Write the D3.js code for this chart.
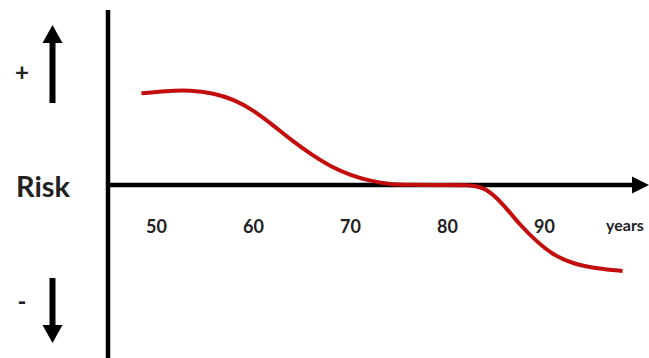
<!DOCTYPE html>
<html>
<head>
<meta charset="utf-8">
<script src="https://cdn.jsdelivr.net/npm/d3@7"></script>
<style>
  html, body { margin: 0; padding: 0; background: #fff; }
  svg { display: block; }
</style>
</head>
<body>
<svg id="chart" width="649" height="358"></svg>
<script>
// ---- data ----
const tickYears = [50, 60, 70, 80, 90];
const tickLabels = ["50", "60", "70", "80", "90"];
const ages = [48.5, 51, 53.5, 56, 58, 60, 62, 64, 66, 68, 70, 72, 74, 76, 80, 82.5, 84, 85.8, 87.5, 89.3, 91, 93, 95.5, 98.1];
const risk = [0.965, 0.99, 1.0, 0.965, 0.9, 0.79, 0.635, 0.47, 0.32, 0.195, 0.105, 0.045, 0.01, 0.0, 0.0, 0.0, -0.03, -0.2, -0.42, -0.6, -0.74, -0.83, -0.88, -0.905];
const axisTitle = "Risk";
const unitLabel = "years";

// ---- layout ----
const svg = d3.select("#chart");
const x = d3.scaleLinear().domain([50, 90]).range([156, 544]);
const y = d3.scaleLinear().domain([-1, 1]).range([280, 90]);
const y0 = y(0);
const axisX = 108;
const textColor = "#222";
const font = "Lato, 'Open Sans', sans-serif";

// vertical axis
svg.append("line")
  .attr("x1", axisX).attr("x2", axisX)
  .attr("y1", 10).attr("y2", 358)
  .attr("stroke", "#000").attr("stroke-width", 4.5);

// horizontal axis line + arrow
svg.append("line")
  .attr("x1", axisX).attr("x2", 634)
  .attr("y1", y0).attr("y2", y0)
  .attr("stroke", "#000").attr("stroke-width", 4.5);
svg.append("path")
  .attr("d", `M632,${y0 - 8.5} L649,${y0} L632,${y0 + 8.5} Z`)
  .attr("fill", "#000");

// tick labels via d3 axis
const ax = d3.axisBottom(x).tickValues(tickYears).tickFormat((d, i) => tickLabels[i]).tickSize(0).tickPadding(0);
const g = svg.append("g").attr("transform", `translate(0,${y0 + 48})`).call(ax);
g.select(".domain").remove();
g.selectAll("text")
  .attr("dy", "0")
  .attr("font-family", font)
  .attr("font-weight", "bold")
  .attr("font-size", 18)
  .attr("fill", textColor);

svg.append("text")
  .attr("x", 625).attr("y", y0 + 46)
  .attr("text-anchor", "middle")
  .attr("font-family", font).attr("font-weight", "bold").attr("font-size", 16)
  .attr("fill", textColor)
  .text(unitLabel);

// curve
const pts = ages.map((a, i) => [a, risk[i]]);
const line = d3.line().x(d => x(d[0])).y(d => y(d[1])).curve(d3.curveBasis);
svg.append("path")
  .datum(pts)
  .attr("d", line)
  .attr("fill", "none")
  .attr("stroke", "#c40d0d")
  .attr("stroke-width", 4)
  .attr("stroke-linecap", "butt");

// left annotations
svg.append("text")
  .attr("x", 16).attr("y", 197)
  .attr("font-family", font).attr("font-weight", "bold").attr("font-size", 29)
  .attr("fill", textColor)
  .text(axisTitle);

svg.append("text")
  .attr("x", 22).attr("y", 81)
  .attr("text-anchor", "middle")
  .attr("font-family", font).attr("font-weight", "bold").attr("font-size", 24)
  .attr("fill", textColor)
  .text("+");
svg.append("text")
  .attr("x", 22).attr("y", 310)
  .attr("text-anchor", "middle")
  .attr("font-family", font).attr("font-weight", "bold").attr("font-size", 24)
  .attr("fill", textColor)
  .text("-");

// up arrow
svg.append("line")
  .attr("x1", 52.5).attr("x2", 52.5).attr("y1", 103).attr("y2", 40)
  .attr("stroke", "#000").attr("stroke-width", 6);
svg.append("path")
  .attr("d", "M42.5,43 L52.5,25 L62.5,43 Z").attr("fill", "#000");

// down arrow
svg.append("line")
  .attr("x1", 52.5).attr("x2", 52.5).attr("y1", 278).attr("y2", 328)
  .attr("stroke", "#000").attr("stroke-width", 6);
svg.append("path")
  .attr("d", "M42.5,325 L52.5,343 L62.5,325 Z").attr("fill", "#000");
</script>
</body>
</html>
